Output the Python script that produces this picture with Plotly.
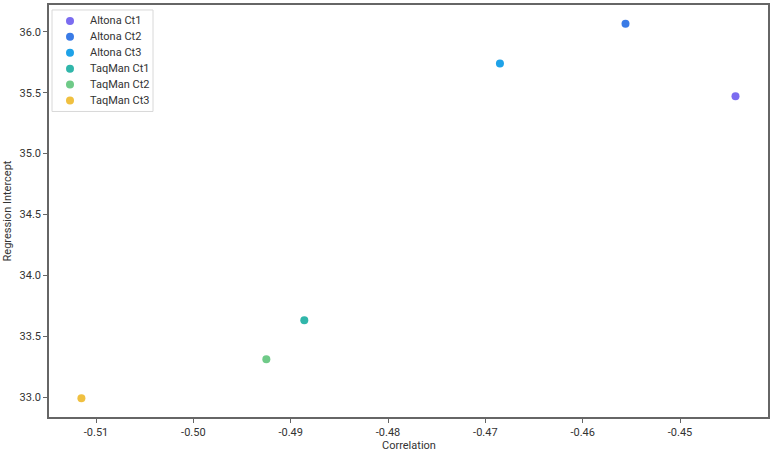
import plotly.graph_objects as go

# one point per assay / Ct channel
series = ["Altona Ct1", "Altona Ct2", "Altona Ct3", "TaqMan Ct1", "TaqMan Ct2", "TaqMan Ct3"]
correlation = [-0.4443, -0.4556, -0.4685, -0.4886, -0.4925, -0.5115]
intercept = [35.47, 36.065, 35.74, 33.63, 33.31, 32.99]
colors = ["#7b6cf0", "#3a7be6", "#1ea2e8", "#30b6aa", "#6fca88", "#f0c040"]

x_ticks = [-0.51, -0.50, -0.49, -0.48, -0.47, -0.46, -0.45]
y_ticks = [33.0, 33.5, 34.0, 34.5, 35.0, 35.5, 36.0]

W, H = 775, 454
ml, mr, mt, mb = 49, 7, 3, 37
pw, ph = W - ml - mr, H - mt - mb

fig = go.Figure()
for name, x, y, c in zip(series, correlation, intercept, colors):
    fig.add_trace(go.Scatter(x=[x], y=[y], mode="markers", name=name,
                             marker=dict(color=c, size=8, line=dict(width=0))))

axis_style = dict(showgrid=False, zeroline=False, showline=True, mirror=True,
                  linecolor="#666666", linewidth=1.5, ticks="outside", ticklen=4,
                  tickcolor="#666666", tickfont=dict(size=11, color="#333333"))

fig.update_xaxes(range=[-0.51483, -0.44096], tickvals=x_ticks,
                 ticktext=[f"{v:.2f}" for v in x_ticks], **axis_style)
fig.update_yaxes(range=[32.836, 36.22], tickvals=y_ticks,
                 ticktext=[f"{v:.1f}" for v in y_ticks],
                 title=dict(text="Regression Intercept", font=dict(size=11, color="#333333"), standoff=6),
                 **axis_style)


# pixel -> paper helpers for the hand-placed pieces
def px_x(p):
    return (p - ml) / pw


def px_y(p):
    return (H - mb - p) / ph


# x title as an annotation so it sits tight to the bottom edge
fig.add_annotation(x=0.5, y=px_y(446), xref="paper", yref="paper", text="Correlation",
                   showarrow=False, font=dict(size=11, color="#333333"),
                   xanchor="center", yanchor="middle")

# compact legend box drawn by hand (plotly's legend rows are taller)
fig.add_shape(type="rect", xref="paper", yref="paper",
              x0=px_x(52), x1=px_x(153), y0=px_y(110), y1=px_y(8),
              line=dict(color="#d8d8d8", width=1), fillcolor="white", layer="above")
for i, (name, c) in enumerate(zip(series, colors)):
    yy = px_y(19 + i * 16)
    fig.add_shape(type="circle", xref="paper", yref="paper",
                  xsizemode="pixel", ysizemode="pixel",
                  xanchor=px_x(70), yanchor=yy, x0=-4, x1=4, y0=-4, y1=4,
                  fillcolor=c, line=dict(width=0), layer="above")
    fig.add_annotation(x=px_x(88), y=yy, xref="paper", yref="paper", text=name,
                       showarrow=False, font=dict(size=11, color="#333333"),
                       xanchor="left", yanchor="middle")

fig.update_layout(
    width=W, height=H,
    margin=dict(l=ml, r=mr, t=mt, b=mb),
    plot_bgcolor="white", paper_bgcolor="white",
    font=dict(family="Roboto, Arial, sans-serif", size=11, color="#333333"),
    showlegend=False,
)

# drop the browser's default body margin so the figure fills the window exactly
fig.write_html("out.html", config={"displayModeBar": False},
               post_script="document.body.style.margin='0';document.body.style.overflow='hidden';")
